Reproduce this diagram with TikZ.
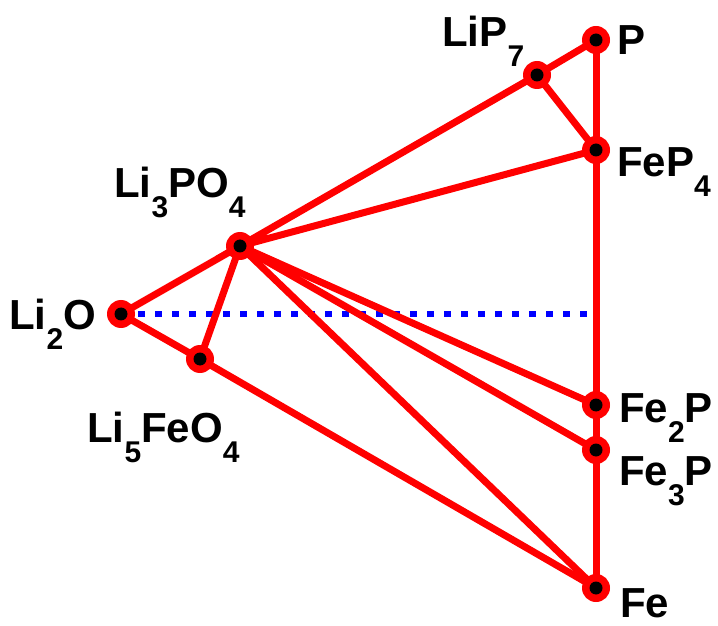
\documentclass[tikz,border=0pt]{standalone}
\usepackage{fontspec}
\setmainfont{Liberation Sans}
\newcommand\sbx[1]{\raisebox{-20pt}{\fontsize{30}{30}\selectfont #1}}
\begin{document}
\begin{tikzpicture}[x=1pt,y=1pt,
  edge/.style={draw=red,line width=7pt},
  phase/.style={circle,fill=red,minimum size=28pt,inner sep=0pt,
    path picture={\fill[black] (path picture bounding box.center) circle (6.5pt);}},
  lab/.style={anchor=base west,inner sep=0pt,font=\fontsize{42}{42}\selectfont\bfseries}]
\useasboundingbox (0,0) rectangle (718,625);
\coordinate (P0) at (596,585);
\coordinate (L7) at (537,550);
\coordinate (F4) at (596,475);
\coordinate (L3) at (240,379);
\coordinate (L2) at (121,311);
\coordinate (L5) at (200,266);
\coordinate (F2) at (596,220);
\coordinate (F3) at (596,175);
\coordinate (Fe0) at (596,37);
\coordinate (mid) at (596,311);
\draw[blue,line width=5.5pt,dash pattern=on 7pt off 10pt] (L2) -- (mid);
\draw[edge] (P0) -- (Fe0);
\draw[edge] (P0) -- (L7) -- (F4);
\draw[edge] (L7) -- (L3) -- (F4);
\draw[edge] (L2) -- (L3) -- (L5) -- (L2);
\draw[edge] (L5) -- (Fe0);
\draw[edge] (L3) -- (F2);
\draw[edge] (L3) -- (F3);
\draw[edge] (L3) -- (Fe0);
\foreach \c in {P0,L7,F4,L3,L2,L5,F2,F3,Fe0}
  \node[phase] (n\c) at (\c) {};
\node[lab] (tP) at (617,570) {P};
\node[lab] (tL7) at (442,578) {LiP\sbx{7}};
\node[lab] (tF4) at (617,448) {FeP\sbx{4}};
\node[lab] (tL3) at (114,427) {Li\sbx{3}PO\sbx{4}};
\node[lab] (tL2) at (9,295) {Li\sbx{2}O};
\node[lab] (tL5) at (87,183) {Li\sbx{5}FeO\sbx{4}};
\node[lab] (tF2) at (619,203) {Fe\sbx{2}P};
\node[lab] (tF3) at (619,140) {Fe\sbx{3}P};
\node[lab] (tFe) at (620,8) {Fe};
\end{tikzpicture}
\end{document}
